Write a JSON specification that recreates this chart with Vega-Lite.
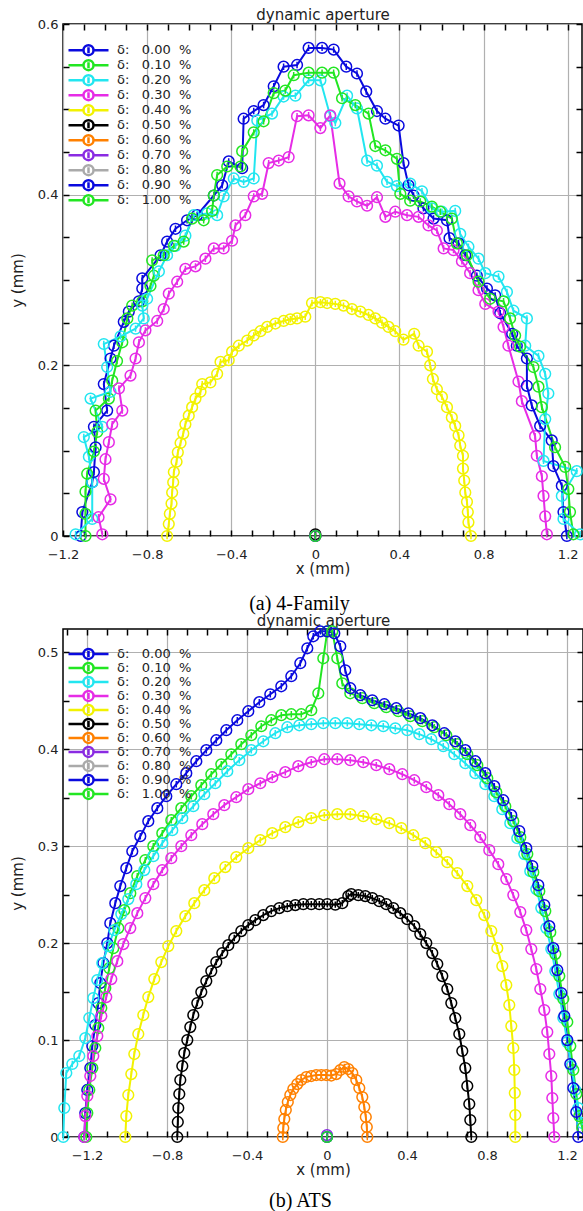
{
"$schema": "https://vega.github.io/schema/vega-lite/v6.json",
"background": "white",
"padding": {"left": 9, "top": 6, "right": 0, "bottom": 0},
"spacing": -3,
"config": {
  "view": {"stroke": "black", "strokeWidth": 1.5},
  "axis": {"labelFont": "DejaVu Sans", "labelFontSize": 13, "labelColor": "#222222", "titleFont": "DejaVu Sans", "titleFontSize": 15, "titleFontWeight": "normal", "titleColor": "#222222", "gridColor": "#b0b0b0", "gridWidth": 1.2, "tickColor": "black", "tickWidth": 1.5}
},
"resolve": {"scale": {"color": "independent"}, "legend": {"color": "independent"}},
"datasets": {
"a": [
{"d":0,"i":1,"x":-1.116,"y":0},{"d":0,"i":2,"x":-1.108,"y":0.028},{"d":0,"i":3,"x":-1.061,"y":0.063},{"d":0,"i":4,"x":-1.053,"y":0.075},{"d":0,"i":5,"x":-1.045,"y":0.104},{"d":0,"i":6,"x":-1.053,"y":0.128},{"d":0,"i":7,"x":-0.99,"y":0.147},{"d":0,"i":8,"x":-1.006,"y":0.178},{"d":0,"i":9,"x":-0.974,"y":0.208},{"d":0,"i":10,"x":-0.958,"y":0.223},{"d":0,"i":11,"x":-0.911,"y":0.251},{"d":0,"i":12,"x":-0.887,"y":0.263},{"d":0,"i":13,"x":-0.839,"y":0.275},{"d":0,"i":14,"x":-0.823,"y":0.29},{"d":0,"i":15,"x":-0.823,"y":0.302},{"d":0,"i":16,"x":-0.736,"y":0.329},{"d":0,"i":17,"x":-0.705,"y":0.345},{"d":0,"i":18,"x":-0.665,"y":0.36},{"d":0,"i":19,"x":-0.61,"y":0.37},{"d":0,"i":20,"x":-0.562,"y":0.376},{"d":0,"i":21,"x":-0.483,"y":0.399},{"d":0,"i":22,"x":-0.443,"y":0.411},{"d":0,"i":23,"x":-0.412,"y":0.439},{"d":0,"i":24,"x":-0.348,"y":0.431},{"d":0,"i":25,"x":-0.341,"y":0.489},{"d":0,"i":26,"x":-0.293,"y":0.498},{"d":0,"i":27,"x":-0.246,"y":0.505},{"d":0,"i":28,"x":-0.198,"y":0.527},{"d":0,"i":29,"x":-0.151,"y":0.55},{"d":0,"i":30,"x":-0.087,"y":0.552},{"d":0,"i":31,"x":-0.032,"y":0.572},{"d":0,"i":32,"x":0.032,"y":0.572},{"d":0,"i":33,"x":0.087,"y":0.57},{"d":0,"i":34,"x":0.147,"y":0.55},{"d":0,"i":35,"x":0.198,"y":0.542},{"d":0,"i":36,"x":0.242,"y":0.521},{"d":0,"i":37,"x":0.293,"y":0.498},{"d":0,"i":38,"x":0.333,"y":0.489},{"d":0,"i":39,"x":0.396,"y":0.481},{"d":0,"i":40,"x":0.419,"y":0.437},{"d":0,"i":41,"x":0.443,"y":0.411},{"d":0,"i":42,"x":0.467,"y":0.399},{"d":0,"i":43,"x":0.514,"y":0.384},{"d":0,"i":44,"x":0.562,"y":0.372},{"d":0,"i":45,"x":0.626,"y":0.37},{"d":0,"i":46,"x":0.638,"y":0.349},{"d":0,"i":47,"x":0.681,"y":0.343},{"d":0,"i":48,"x":0.713,"y":0.329},{"d":0,"i":49,"x":0.768,"y":0.305},{"d":0,"i":50,"x":0.816,"y":0.29},{"d":0,"i":51,"x":0.855,"y":0.282},{"d":0,"i":52,"x":0.879,"y":0.261},{"d":0,"i":53,"x":0.936,"y":0.237},{"d":0,"i":54,"x":0.958,"y":0.223},{"d":0,"i":55,"x":1.006,"y":0.208},{"d":0,"i":56,"x":1.006,"y":0.176},{"d":0,"i":57,"x":1.029,"y":0.153},{"d":0,"i":58,"x":1.069,"y":0.129},{"d":0,"i":59,"x":1.124,"y":0.112},{"d":0,"i":60,"x":1.132,"y":0.082},{"d":0,"i":61,"x":1.172,"y":0.059},{"d":0,"i":62,"x":1.18,"y":0.028},{"d":0,"i":63,"x":1.196,"y":0},
{"d":0.1,"i":1,"x":-1.093,"y":0},{"d":0.1,"i":2,"x":-1.093,"y":0.026},{"d":0.1,"i":3,"x":-1.093,"y":0.052},{"d":0.1,"i":4,"x":-1.085,"y":0.073},{"d":0.1,"i":5,"x":-1.053,"y":0.099},{"d":0.1,"i":6,"x":-1.037,"y":0.122},{"d":0.1,"i":7,"x":-1.045,"y":0.147},{"d":0.1,"i":8,"x":-0.982,"y":0.161},{"d":0.1,"i":9,"x":-0.966,"y":0.182},{"d":0.1,"i":10,"x":-0.943,"y":0.205},{"d":0.1,"i":11,"x":-0.918,"y":0.227},{"d":0.1,"i":12,"x":-0.894,"y":0.255},{"d":0.1,"i":13,"x":-0.871,"y":0.27},{"d":0.1,"i":14,"x":-0.823,"y":0.275},{"d":0.1,"i":15,"x":-0.784,"y":0.293},{"d":0.1,"i":16,"x":-0.768,"y":0.305},{"d":0.1,"i":17,"x":-0.776,"y":0.323},{"d":0.1,"i":18,"x":-0.721,"y":0.329},{"d":0.1,"i":19,"x":-0.673,"y":0.34},{"d":0.1,"i":20,"x":-0.626,"y":0.345},{"d":0.1,"i":21,"x":-0.586,"y":0.372},{"d":0.1,"i":22,"x":-0.531,"y":0.37},{"d":0.1,"i":23,"x":-0.491,"y":0.381},{"d":0.1,"i":24,"x":-0.483,"y":0.399},{"d":0.1,"i":25,"x":-0.467,"y":0.423},{"d":0.1,"i":26,"x":-0.419,"y":0.433},{"d":0.1,"i":27,"x":-0.356,"y":0.433},{"d":0.1,"i":28,"x":-0.348,"y":0.451},{"d":0.1,"i":29,"x":-0.293,"y":0.473},{"d":0.1,"i":30,"x":-0.246,"y":0.486},{"d":0.1,"i":31,"x":-0.198,"y":0.519},{"d":0.1,"i":32,"x":-0.143,"y":0.522},{"d":0.1,"i":33,"x":-0.103,"y":0.54},{"d":0.1,"i":34,"x":-0.032,"y":0.543},{"d":0.1,"i":35,"x":0.032,"y":0.543},{"d":0.1,"i":36,"x":0.087,"y":0.543},{"d":0.1,"i":37,"x":0.127,"y":0.513},{"d":0.1,"i":38,"x":0.19,"y":0.505},{"d":0.1,"i":39,"x":0.253,"y":0.495},{"d":0.1,"i":40,"x":0.285,"y":0.457},{"d":0.1,"i":41,"x":0.333,"y":0.452},{"d":0.1,"i":42,"x":0.388,"y":0.442},{"d":0.1,"i":43,"x":0.404,"y":0.401},{"d":0.1,"i":44,"x":0.451,"y":0.393},{"d":0.1,"i":45,"x":0.499,"y":0.392},{"d":0.1,"i":46,"x":0.554,"y":0.386},{"d":0.1,"i":47,"x":0.594,"y":0.38},{"d":0.1,"i":48,"x":0.649,"y":0.372},{"d":0.1,"i":49,"x":0.673,"y":0.343},{"d":0.1,"i":50,"x":0.721,"y":0.329},{"d":0.1,"i":51,"x":0.776,"y":0.298},{"d":0.1,"i":52,"x":0.831,"y":0.278},{"d":0.1,"i":53,"x":0.895,"y":0.275},{"d":0.1,"i":54,"x":0.926,"y":0.255},{"d":0.1,"i":55,"x":0.95,"y":0.235},{"d":0.1,"i":56,"x":0.974,"y":0.222},{"d":0.1,"i":57,"x":1.037,"y":0.198},{"d":0.1,"i":58,"x":1.061,"y":0.175},{"d":0.1,"i":59,"x":1.077,"y":0.151},{"d":0.1,"i":60,"x":1.14,"y":0.104},{"d":0.1,"i":61,"x":1.188,"y":0.081},{"d":0.1,"i":62,"x":1.203,"y":0.055},{"d":0.1,"i":63,"x":1.211,"y":0.028},{"d":0.1,"i":64,"x":1.227,"y":0.002},
{"d":0.2,"i":1,"x":-1.14,"y":0.002},{"d":0.2,"i":2,"x":-1.061,"y":0.02},{"d":0.2,"i":3,"x":-1.061,"y":0.063},{"d":0.2,"i":4,"x":-1.077,"y":0.093},{"d":0.2,"i":5,"x":-1.101,"y":0.116},{"d":0.2,"i":6,"x":-1.013,"y":0.128},{"d":0.2,"i":7,"x":-1.069,"y":0.161},{"d":0.2,"i":8,"x":-0.974,"y":0.169},{"d":0.2,"i":9,"x":-0.99,"y":0.198},{"d":0.2,"i":10,"x":-1.006,"y":0.225},{"d":0.2,"i":11,"x":-0.926,"y":0.234},{"d":0.2,"i":12,"x":-0.855,"y":0.243},{"d":0.2,"i":13,"x":-0.816,"y":0.255},{"d":0.2,"i":14,"x":-0.823,"y":0.27},{"d":0.2,"i":15,"x":-0.8,"y":0.278},{"d":0.2,"i":16,"x":-0.744,"y":0.31},{"d":0.2,"i":17,"x":-0.705,"y":0.329},{"d":0.2,"i":18,"x":-0.665,"y":0.34},{"d":0.2,"i":19,"x":-0.618,"y":0.352},{"d":0.2,"i":20,"x":-0.578,"y":0.376},{"d":0.2,"i":21,"x":-0.515,"y":0.378},{"d":0.2,"i":22,"x":-0.467,"y":0.376},{"d":0.2,"i":23,"x":-0.436,"y":0.398},{"d":0.2,"i":24,"x":-0.388,"y":0.419},{"d":0.2,"i":25,"x":-0.341,"y":0.415},{"d":0.2,"i":26,"x":-0.293,"y":0.419},{"d":0.2,"i":27,"x":-0.276,"y":0.487},{"d":0.2,"i":28,"x":-0.206,"y":0.495},{"d":0.2,"i":29,"x":-0.151,"y":0.515},{"d":0.2,"i":30,"x":-0.095,"y":0.516},{"d":0.2,"i":31,"x":-0.032,"y":0.534},{"d":0.2,"i":32,"x":0.024,"y":0.534},{"d":0.2,"i":33,"x":0.071,"y":0.492},{"d":0.2,"i":34,"x":0.095,"y":0.484},{"d":0.2,"i":35,"x":0.151,"y":0.516},{"d":0.2,"i":36,"x":0.198,"y":0.501},{"d":0.2,"i":37,"x":0.246,"y":0.44},{"d":0.2,"i":38,"x":0.293,"y":0.434},{"d":0.2,"i":39,"x":0.341,"y":0.415},{"d":0.2,"i":40,"x":0.388,"y":0.41},{"d":0.2,"i":41,"x":0.451,"y":0.413},{"d":0.2,"i":42,"x":0.507,"y":0.404},{"d":0.2,"i":43,"x":0.554,"y":0.384},{"d":0.2,"i":44,"x":0.602,"y":0.38},{"d":0.2,"i":45,"x":0.665,"y":0.381},{"d":0.2,"i":46,"x":0.689,"y":0.354},{"d":0.2,"i":47,"x":0.728,"y":0.339},{"d":0.2,"i":48,"x":0.776,"y":0.325},{"d":0.2,"i":49,"x":0.808,"y":0.308},{"d":0.2,"i":50,"x":0.871,"y":0.304},{"d":0.2,"i":51,"x":0.911,"y":0.286},{"d":0.2,"i":52,"x":0.942,"y":0.264},{"d":0.2,"i":53,"x":1.006,"y":0.255},{"d":0.2,"i":54,"x":0.998,"y":0.223},{"d":0.2,"i":55,"x":1.061,"y":0.211},{"d":0.2,"i":56,"x":1.093,"y":0.19},{"d":0.2,"i":57,"x":1.108,"y":0.167},{"d":0.2,"i":58,"x":1.093,"y":0.137},{"d":0.2,"i":59,"x":1.085,"y":0.088},{"d":0.2,"i":60,"x":1.243,"y":0.076},{"d":0.2,"i":61,"x":1.172,"y":0.047},{"d":0.2,"i":62,"x":1.18,"y":0.02},{"d":0.2,"i":63,"x":1.259,"y":0.002},
{"d":0.3,"i":1,"x":-1.013,"y":0.002},{"d":0.3,"i":2,"x":-1.031,"y":0.022},{"d":0.3,"i":3,"x":-0.974,"y":0.043},{"d":0.3,"i":4,"x":-1.006,"y":0.067},{"d":0.3,"i":5,"x":-0.998,"y":0.09},{"d":0.3,"i":6,"x":-0.982,"y":0.11},{"d":0.3,"i":7,"x":-0.966,"y":0.131},{"d":0.3,"i":8,"x":-0.918,"y":0.147},{"d":0.3,"i":9,"x":-0.934,"y":0.173},{"d":0.3,"i":10,"x":-0.879,"y":0.188},{"d":0.3,"i":11,"x":-0.855,"y":0.208},{"d":0.3,"i":12,"x":-0.839,"y":0.227},{"d":0.3,"i":13,"x":-0.808,"y":0.241},{"d":0.3,"i":14,"x":-0.752,"y":0.252},{"d":0.3,"i":15,"x":-0.721,"y":0.266},{"d":0.3,"i":16,"x":-0.697,"y":0.284},{"d":0.3,"i":17,"x":-0.657,"y":0.298},{"d":0.3,"i":18,"x":-0.618,"y":0.313},{"d":0.3,"i":19,"x":-0.57,"y":0.316},{"d":0.3,"i":20,"x":-0.523,"y":0.325},{"d":0.3,"i":21,"x":-0.483,"y":0.337},{"d":0.3,"i":22,"x":-0.436,"y":0.337},{"d":0.3,"i":23,"x":-0.396,"y":0.346},{"d":0.3,"i":24,"x":-0.38,"y":0.364},{"d":0.3,"i":25,"x":-0.333,"y":0.376},{"d":0.3,"i":26,"x":-0.293,"y":0.398},{"d":0.3,"i":27,"x":-0.253,"y":0.401},{"d":0.3,"i":28,"x":-0.222,"y":0.437},{"d":0.3,"i":29,"x":-0.174,"y":0.44},{"d":0.3,"i":30,"x":-0.127,"y":0.444},{"d":0.3,"i":31,"x":-0.087,"y":0.492},{"d":0.3,"i":32,"x":-0.032,"y":0.493},{"d":0.3,"i":33,"x":0.024,"y":0.478},{"d":0.3,"i":34,"x":0.071,"y":0.493},{"d":0.3,"i":35,"x":0.115,"y":0.413},{"d":0.3,"i":36,"x":0.158,"y":0.398},{"d":0.3,"i":37,"x":0.198,"y":0.392},{"d":0.3,"i":38,"x":0.246,"y":0.387},{"d":0.3,"i":39,"x":0.293,"y":0.397},{"d":0.3,"i":40,"x":0.333,"y":0.374},{"d":0.3,"i":41,"x":0.38,"y":0.38},{"d":0.3,"i":42,"x":0.436,"y":0.376},{"d":0.3,"i":43,"x":0.491,"y":0.374},{"d":0.3,"i":44,"x":0.538,"y":0.364},{"d":0.3,"i":45,"x":0.578,"y":0.358},{"d":0.3,"i":46,"x":0.61,"y":0.337},{"d":0.3,"i":47,"x":0.657,"y":0.335},{"d":0.3,"i":48,"x":0.697,"y":0.322},{"d":0.3,"i":49,"x":0.736,"y":0.308},{"d":0.3,"i":50,"x":0.776,"y":0.288},{"d":0.3,"i":51,"x":0.808,"y":0.272},{"d":0.3,"i":52,"x":0.871,"y":0.263},{"d":0.3,"i":53,"x":0.895,"y":0.245},{"d":0.3,"i":54,"x":0.918,"y":0.223},{"d":0.3,"i":55,"x":0.966,"y":0.181},{"d":0.3,"i":56,"x":0.982,"y":0.158},{"d":0.3,"i":57,"x":1.045,"y":0.117},{"d":0.3,"i":58,"x":1.053,"y":0.094},{"d":0.3,"i":59,"x":1.077,"y":0.07},{"d":0.3,"i":60,"x":1.085,"y":0.047},{"d":0.3,"i":61,"x":1.093,"y":0.023},{"d":0.3,"i":62,"x":1.101,"y":0.002},
{"d":0.4,"i":1,"x":-0.705,"y":0},{"d":0.4,"i":2,"x":-0.697,"y":0.014},{"d":0.4,"i":3,"x":-0.692,"y":0.026},{"d":0.4,"i":4,"x":-0.684,"y":0.038},{"d":0.4,"i":5,"x":-0.681,"y":0.051},{"d":0.4,"i":6,"x":-0.676,"y":0.063},{"d":0.4,"i":7,"x":-0.673,"y":0.075},{"d":0.4,"i":8,"x":-0.66,"y":0.087},{"d":0.4,"i":9,"x":-0.654,"y":0.098},{"d":0.4,"i":10,"x":-0.641,"y":0.109},{"d":0.4,"i":11,"x":-0.628,"y":0.12},{"d":0.4,"i":12,"x":-0.618,"y":0.131},{"d":0.4,"i":13,"x":-0.602,"y":0.141},{"d":0.4,"i":14,"x":-0.586,"y":0.151},{"d":0.4,"i":15,"x":-0.57,"y":0.161},{"d":0.4,"i":16,"x":-0.546,"y":0.169},{"d":0.4,"i":17,"x":-0.538,"y":0.178},{"d":0.4,"i":18,"x":-0.499,"y":0.18},{"d":0.4,"i":19,"x":-0.467,"y":0.19},{"d":0.4,"i":20,"x":-0.451,"y":0.204},{"d":0.4,"i":21,"x":-0.412,"y":0.206},{"d":0.4,"i":22,"x":-0.396,"y":0.216},{"d":0.4,"i":23,"x":-0.364,"y":0.223},{"d":0.4,"i":24,"x":-0.324,"y":0.229},{"d":0.4,"i":25,"x":-0.293,"y":0.235},{"d":0.4,"i":26,"x":-0.261,"y":0.24},{"d":0.4,"i":27,"x":-0.229,"y":0.245},{"d":0.4,"i":28,"x":-0.19,"y":0.249},{"d":0.4,"i":29,"x":-0.151,"y":0.252},{"d":0.4,"i":30,"x":-0.119,"y":0.254},{"d":0.4,"i":31,"x":-0.087,"y":0.255},{"d":0.4,"i":32,"x":-0.048,"y":0.257},{"d":0.4,"i":33,"x":-0.016,"y":0.273},{"d":0.4,"i":34,"x":0.024,"y":0.274},{"d":0.4,"i":35,"x":0.056,"y":0.273},{"d":0.4,"i":36,"x":0.095,"y":0.272},{"d":0.4,"i":37,"x":0.134,"y":0.27},{"d":0.4,"i":38,"x":0.174,"y":0.266},{"d":0.4,"i":39,"x":0.214,"y":0.263},{"d":0.4,"i":40,"x":0.253,"y":0.259},{"d":0.4,"i":41,"x":0.285,"y":0.255},{"d":0.4,"i":42,"x":0.317,"y":0.25},{"d":0.4,"i":43,"x":0.348,"y":0.245},{"d":0.4,"i":44,"x":0.38,"y":0.24},{"d":0.4,"i":45,"x":0.419,"y":0.23},{"d":0.4,"i":46,"x":0.47,"y":0.237},{"d":0.4,"i":47,"x":0.491,"y":0.223},{"d":0.4,"i":48,"x":0.531,"y":0.216},{"d":0.4,"i":49,"x":0.546,"y":0.2},{"d":0.4,"i":50,"x":0.559,"y":0.184},{"d":0.4,"i":51,"x":0.578,"y":0.172},{"d":0.4,"i":52,"x":0.602,"y":0.163},{"d":0.4,"i":53,"x":0.626,"y":0.151},{"d":0.4,"i":54,"x":0.649,"y":0.139},{"d":0.4,"i":55,"x":0.665,"y":0.129},{"d":0.4,"i":56,"x":0.681,"y":0.118},{"d":0.4,"i":57,"x":0.689,"y":0.106},{"d":0.4,"i":58,"x":0.702,"y":0.094},{"d":0.4,"i":59,"x":0.702,"y":0.079},{"d":0.4,"i":60,"x":0.708,"y":0.065},{"d":0.4,"i":61,"x":0.713,"y":0.051},{"d":0.4,"i":62,"x":0.721,"y":0.04},{"d":0.4,"i":63,"x":0.725,"y":0.028},{"d":0.4,"i":64,"x":0.728,"y":0.016},{"d":0.4,"i":65,"x":0.74,"y":0},
{"d":0.5,"i":1,"x":0,"y":0.002},{"d":0.6,"i":1,"x":0,"y":0},{"d":0.7,"i":1,"x":0,"y":0},{"d":0.8,"i":1,"x":0,"y":0},{"d":0.9,"i":1,"x":0,"y":0},{"d":1,"i":1,"x":0,"y":0}
],
"b": [
{"d":0,"i":1,"x":-1.2135,"y":0},{"d":0,"i":2,"x":-1.2085,"y":0.0247},{"d":0,"i":3,"x":-1.1985,"y":0.0485},{"d":0,"i":4,"x":-1.1835,"y":0.0711},{"d":0,"i":5,"x":-1.1735,"y":0.0938},{"d":0,"i":6,"x":-1.1585,"y":0.1155},{"d":0,"i":7,"x":-1.1435,"y":0.1381},{"d":0,"i":8,"x":-1.1335,"y":0.1588},{"d":0,"i":9,"x":-1.1185,"y":0.1794},{"d":0,"i":10,"x":-1.0985,"y":0.2},{"d":0,"i":11,"x":-1.0835,"y":0.2206},{"d":0,"i":12,"x":-1.0585,"y":0.2412},{"d":0,"i":13,"x":-1.0335,"y":0.2588},{"d":0,"i":14,"x":-1.0035,"y":0.2773},{"d":0,"i":15,"x":-0.9735,"y":0.2948},{"d":0,"i":16,"x":-0.9335,"y":0.3103},{"d":0,"i":17,"x":-0.8935,"y":0.3258},{"d":0,"i":18,"x":-0.8485,"y":0.3392},{"d":0,"i":19,"x":-0.8035,"y":0.3515},{"d":0,"i":20,"x":-0.7535,"y":0.3639},{"d":0,"i":21,"x":-0.7035,"y":0.3753},{"d":0,"i":22,"x":-0.6535,"y":0.3876},{"d":0,"i":23,"x":-0.6035,"y":0.399},{"d":0,"i":24,"x":-0.5535,"y":0.4093},{"d":0,"i":25,"x":-0.5035,"y":0.4196},{"d":0,"i":26,"x":-0.4485,"y":0.4299},{"d":0,"i":27,"x":-0.3935,"y":0.4392},{"d":0,"i":28,"x":-0.3385,"y":0.4485},{"d":0,"i":29,"x":-0.2835,"y":0.4567},{"d":0,"i":30,"x":-0.2285,"y":0.4649},{"d":0,"i":31,"x":-0.1785,"y":0.4753},{"d":0,"i":32,"x":-0.1335,"y":0.4887},{"d":0,"i":33,"x":-0.0985,"y":0.5041},{"d":0,"i":34,"x":-0.0685,"y":0.5165},{"d":0,"i":35,"x":-0.0335,"y":0.5216},{"d":0,"i":36,"x":0.0015,"y":0.5216},{"d":0,"i":37,"x":0.0365,"y":0.5196},{"d":0,"i":38,"x":0.0665,"y":0.5062},{"d":0,"i":39,"x":0.0915,"y":0.4814},{"d":0,"i":40,"x":0.1165,"y":0.4629},{"d":0,"i":41,"x":0.1665,"y":0.4557},{"d":0,"i":42,"x":0.2265,"y":0.4505},{"d":0,"i":43,"x":0.2865,"y":0.4464},{"d":0,"i":44,"x":0.3465,"y":0.4423},{"d":0,"i":45,"x":0.4065,"y":0.4371},{"d":0,"i":46,"x":0.4665,"y":0.432},{"d":0,"i":47,"x":0.5265,"y":0.4247},{"d":0,"i":48,"x":0.5865,"y":0.4165},{"d":0,"i":49,"x":0.6415,"y":0.4082},{"d":0,"i":50,"x":0.6915,"y":0.399},{"d":0,"i":51,"x":0.7415,"y":0.3876},{"d":0,"i":52,"x":0.7915,"y":0.3753},{"d":0,"i":53,"x":0.8365,"y":0.3619},{"d":0,"i":54,"x":0.8815,"y":0.3474},{"d":0,"i":55,"x":0.9215,"y":0.332},{"d":0,"i":56,"x":0.9615,"y":0.3155},{"d":0,"i":57,"x":0.9965,"y":0.2979},{"d":0,"i":58,"x":1.0265,"y":0.2794},{"d":0,"i":59,"x":1.0565,"y":0.2598},{"d":0,"i":60,"x":1.0865,"y":0.2392},{"d":0,"i":61,"x":1.1115,"y":0.2175},{"d":0,"i":62,"x":1.1315,"y":0.1948},{"d":0,"i":63,"x":1.1515,"y":0.1722},{"d":0,"i":64,"x":1.1715,"y":0.1485},{"d":0,"i":65,"x":1.1865,"y":0.1247},{"d":0,"i":66,"x":1.2015,"y":0.1},{"d":0,"i":67,"x":1.2165,"y":0.0753},{"d":0,"i":68,"x":1.2315,"y":0.0505},{"d":0,"i":69,"x":1.2465,"y":0.0258},{"d":0,"i":70,"x":1.2565,"y":0},
{"d":0.1,"i":1,"x":-1.2035,"y":0},{"d":0.1,"i":2,"x":-1.1985,"y":0.0247},{"d":0.1,"i":3,"x":-1.1885,"y":0.0485},{"d":0.1,"i":4,"x":-1.1735,"y":0.0711},{"d":0.1,"i":5,"x":-1.1585,"y":0.0918},{"d":0.1,"i":6,"x":-1.1435,"y":0.1124},{"d":0.1,"i":7,"x":-1.1285,"y":0.133},{"d":0.1,"i":8,"x":-1.1085,"y":0.1536},{"d":0.1,"i":9,"x":-1.0885,"y":0.1742},{"d":0.1,"i":10,"x":-1.0685,"y":0.1948},{"d":0.1,"i":11,"x":-1.0435,"y":0.2155},{"d":0.1,"i":12,"x":-1.0135,"y":0.234},{"d":0.1,"i":13,"x":-0.9835,"y":0.2515},{"d":0.1,"i":14,"x":-0.9485,"y":0.2691},{"d":0.1,"i":15,"x":-0.9085,"y":0.2856},{"d":0.1,"i":16,"x":-0.8685,"y":0.3},{"d":0.1,"i":17,"x":-0.8235,"y":0.3134},{"d":0.1,"i":18,"x":-0.7785,"y":0.3268},{"d":0.1,"i":19,"x":-0.7285,"y":0.3392},{"d":0.1,"i":20,"x":-0.6785,"y":0.3515},{"d":0.1,"i":21,"x":-0.6285,"y":0.3629},{"d":0.1,"i":22,"x":-0.5785,"y":0.3742},{"d":0.1,"i":23,"x":-0.5285,"y":0.3845},{"d":0.1,"i":24,"x":-0.4785,"y":0.3948},{"d":0.1,"i":25,"x":-0.4285,"y":0.4052},{"d":0.1,"i":26,"x":-0.3785,"y":0.4144},{"d":0.1,"i":27,"x":-0.3285,"y":0.4237},{"d":0.1,"i":28,"x":-0.2785,"y":0.4299},{"d":0.1,"i":29,"x":-0.2285,"y":0.4351},{"d":0.1,"i":30,"x":-0.1785,"y":0.4361},{"d":0.1,"i":31,"x":-0.1285,"y":0.4361},{"d":0.1,"i":32,"x":-0.0785,"y":0.4402},{"d":0.1,"i":33,"x":-0.0435,"y":0.4577},{"d":0.1,"i":34,"x":-0.0185,"y":0.4938},{"d":0.1,"i":35,"x":0.0015,"y":0.5216},{"d":0.1,"i":36,"x":0.0265,"y":0.5216},{"d":0.1,"i":37,"x":0.0515,"y":0.4938},{"d":0.1,"i":38,"x":0.0765,"y":0.468},{"d":0.1,"i":39,"x":0.1165,"y":0.4577},{"d":0.1,"i":40,"x":0.1765,"y":0.4526},{"d":0.1,"i":41,"x":0.2365,"y":0.4474},{"d":0.1,"i":42,"x":0.2965,"y":0.4433},{"d":0.1,"i":43,"x":0.3565,"y":0.4392},{"d":0.1,"i":44,"x":0.4165,"y":0.434},{"d":0.1,"i":45,"x":0.4765,"y":0.4289},{"d":0.1,"i":46,"x":0.5365,"y":0.4227},{"d":0.1,"i":47,"x":0.5965,"y":0.4144},{"d":0.1,"i":48,"x":0.6515,"y":0.4052},{"d":0.1,"i":49,"x":0.7015,"y":0.3948},{"d":0.1,"i":50,"x":0.7515,"y":0.3835},{"d":0.1,"i":51,"x":0.8015,"y":0.3701},{"d":0.1,"i":52,"x":0.8465,"y":0.3557},{"d":0.1,"i":53,"x":0.8915,"y":0.3412},{"d":0.1,"i":54,"x":0.9315,"y":0.3258},{"d":0.1,"i":55,"x":0.9665,"y":0.3093},{"d":0.1,"i":56,"x":1.0015,"y":0.2918},{"d":0.1,"i":57,"x":1.0315,"y":0.2732},{"d":0.1,"i":58,"x":1.0615,"y":0.2536},{"d":0.1,"i":59,"x":1.0915,"y":0.233},{"d":0.1,"i":60,"x":1.1165,"y":0.2113},{"d":0.1,"i":61,"x":1.1415,"y":0.1887},{"d":0.1,"i":62,"x":1.1615,"y":0.166},{"d":0.1,"i":63,"x":1.1815,"y":0.1423},{"d":0.1,"i":64,"x":1.2015,"y":0.1186},{"d":0.1,"i":65,"x":1.2165,"y":0.0938},{"d":0.1,"i":66,"x":1.2315,"y":0.0691},{"d":0.1,"i":67,"x":1.2465,"y":0.0443},{"d":0.1,"i":68,"x":1.2615,"y":0.0216},{"d":0.1,"i":69,"x":1.2765,"y":0.0093},
{"d":0.2,"i":1,"x":-1.3185,"y":0},{"d":0.2,"i":2,"x":-1.3135,"y":0.0299},{"d":0.2,"i":3,"x":-1.3035,"y":0.066},{"d":0.2,"i":4,"x":-1.2735,"y":0.0753},{"d":0.2,"i":5,"x":-1.2385,"y":0.0835},{"d":0.2,"i":6,"x":-1.2085,"y":0.1021},{"d":0.2,"i":7,"x":-1.1885,"y":0.1227},{"d":0.2,"i":8,"x":-1.1685,"y":0.1433},{"d":0.2,"i":9,"x":-1.1485,"y":0.1619},{"d":0.2,"i":10,"x":-1.1235,"y":0.1794},{"d":0.2,"i":11,"x":-1.0935,"y":0.1969},{"d":0.2,"i":12,"x":-1.0635,"y":0.2134},{"d":0.2,"i":13,"x":-1.0285,"y":0.2299},{"d":0.2,"i":14,"x":-0.9935,"y":0.2454},{"d":0.2,"i":15,"x":-0.9535,"y":0.2608},{"d":0.2,"i":16,"x":-0.9135,"y":0.2753},{"d":0.2,"i":17,"x":-0.8685,"y":0.2897},{"d":0.2,"i":18,"x":-0.8235,"y":0.3031},{"d":0.2,"i":19,"x":-0.7735,"y":0.3165},{"d":0.2,"i":20,"x":-0.7235,"y":0.3289},{"d":0.2,"i":21,"x":-0.6685,"y":0.3412},{"d":0.2,"i":22,"x":-0.6135,"y":0.3536},{"d":0.2,"i":23,"x":-0.5585,"y":0.3649},{"d":0.2,"i":24,"x":-0.4985,"y":0.3773},{"d":0.2,"i":25,"x":-0.4385,"y":0.3887},{"d":0.2,"i":26,"x":-0.3785,"y":0.399},{"d":0.2,"i":27,"x":-0.3185,"y":0.4082},{"d":0.2,"i":28,"x":-0.2585,"y":0.4165},{"d":0.2,"i":29,"x":-0.1985,"y":0.4227},{"d":0.2,"i":30,"x":-0.1385,"y":0.4247},{"d":0.2,"i":31,"x":-0.0785,"y":0.4258},{"d":0.2,"i":32,"x":-0.0185,"y":0.4268},{"d":0.2,"i":33,"x":0.0415,"y":0.4268},{"d":0.2,"i":34,"x":0.1015,"y":0.4268},{"d":0.2,"i":35,"x":0.1615,"y":0.4258},{"d":0.2,"i":36,"x":0.2215,"y":0.4247},{"d":0.2,"i":37,"x":0.2815,"y":0.4237},{"d":0.2,"i":38,"x":0.3415,"y":0.4216},{"d":0.2,"i":39,"x":0.4015,"y":0.4196},{"d":0.2,"i":40,"x":0.4615,"y":0.4155},{"d":0.2,"i":41,"x":0.5215,"y":0.4103},{"d":0.2,"i":42,"x":0.5815,"y":0.4031},{"d":0.2,"i":43,"x":0.6365,"y":0.3948},{"d":0.2,"i":44,"x":0.6915,"y":0.3856},{"d":0.2,"i":45,"x":0.7415,"y":0.3753},{"d":0.2,"i":46,"x":0.7915,"y":0.3639},{"d":0.2,"i":47,"x":0.8365,"y":0.3515},{"d":0.2,"i":48,"x":0.8765,"y":0.3381},{"d":0.2,"i":49,"x":0.9165,"y":0.3237},{"d":0.2,"i":50,"x":0.9515,"y":0.3082},{"d":0.2,"i":51,"x":0.9865,"y":0.2918},{"d":0.2,"i":52,"x":1.0165,"y":0.2742},{"d":0.2,"i":53,"x":1.0465,"y":0.2557},{"d":0.2,"i":54,"x":1.0715,"y":0.2361},{"d":0.2,"i":55,"x":1.0965,"y":0.2155},{"d":0.2,"i":56,"x":1.1215,"y":0.1938},{"d":0.2,"i":57,"x":1.1415,"y":0.1711},{"d":0.2,"i":58,"x":1.1615,"y":0.1474},{"d":0.2,"i":59,"x":1.1815,"y":0.1227},{"d":0.2,"i":60,"x":1.2015,"y":0.0979},{"d":0.2,"i":61,"x":1.2215,"y":0.0732},{"d":0.2,"i":62,"x":1.2415,"y":0.0485},{"d":0.2,"i":63,"x":1.2565,"y":0.0299},{"d":0.2,"i":64,"x":1.2765,"y":0.0144},
{"d":0.3,"i":1,"x":-1.2135,"y":0},{"d":0.3,"i":2,"x":-1.2085,"y":0.0216},{"d":0.3,"i":3,"x":-1.1985,"y":0.0423},{"d":0.3,"i":4,"x":-1.1835,"y":0.0629},{"d":0.3,"i":5,"x":-1.1685,"y":0.0835},{"d":0.3,"i":6,"x":-1.1485,"y":0.1041},{"d":0.3,"i":7,"x":-1.1285,"y":0.1247},{"d":0.3,"i":8,"x":-1.1035,"y":0.1443},{"d":0.3,"i":9,"x":-1.0785,"y":0.1629},{"d":0.3,"i":10,"x":-1.0485,"y":0.1814},{"d":0.3,"i":11,"x":-1.0185,"y":0.199},{"d":0.3,"i":12,"x":-0.9835,"y":0.2155},{"d":0.3,"i":13,"x":-0.9485,"y":0.2309},{"d":0.3,"i":14,"x":-0.9085,"y":0.2464},{"d":0.3,"i":15,"x":-0.8685,"y":0.2608},{"d":0.3,"i":16,"x":-0.8235,"y":0.2753},{"d":0.3,"i":17,"x":-0.7785,"y":0.2876},{"d":0.3,"i":18,"x":-0.7285,"y":0.3},{"d":0.3,"i":19,"x":-0.6785,"y":0.3113},{"d":0.3,"i":20,"x":-0.6235,"y":0.3227},{"d":0.3,"i":21,"x":-0.5685,"y":0.333},{"d":0.3,"i":22,"x":-0.5135,"y":0.3423},{"d":0.3,"i":23,"x":-0.4535,"y":0.3505},{"d":0.3,"i":24,"x":-0.3935,"y":0.3588},{"d":0.3,"i":25,"x":-0.3335,"y":0.3649},{"d":0.3,"i":26,"x":-0.2735,"y":0.3711},{"d":0.3,"i":27,"x":-0.2085,"y":0.3763},{"d":0.3,"i":28,"x":-0.1435,"y":0.3825},{"d":0.3,"i":29,"x":-0.0785,"y":0.3866},{"d":0.3,"i":30,"x":-0.0135,"y":0.3897},{"d":0.3,"i":31,"x":0.0515,"y":0.3897},{"d":0.3,"i":32,"x":0.1165,"y":0.3887},{"d":0.3,"i":33,"x":0.1815,"y":0.3866},{"d":0.3,"i":34,"x":0.2465,"y":0.3835},{"d":0.3,"i":35,"x":0.3115,"y":0.3794},{"d":0.3,"i":36,"x":0.3765,"y":0.3742},{"d":0.3,"i":37,"x":0.4365,"y":0.368},{"d":0.3,"i":38,"x":0.4965,"y":0.3608},{"d":0.3,"i":39,"x":0.5565,"y":0.3526},{"d":0.3,"i":40,"x":0.6115,"y":0.3433},{"d":0.3,"i":41,"x":0.6665,"y":0.333},{"d":0.3,"i":42,"x":0.7165,"y":0.3216},{"d":0.3,"i":43,"x":0.7665,"y":0.3093},{"d":0.3,"i":44,"x":0.8115,"y":0.2959},{"d":0.3,"i":45,"x":0.8565,"y":0.2814},{"d":0.3,"i":46,"x":0.8965,"y":0.266},{"d":0.3,"i":47,"x":0.9315,"y":0.2495},{"d":0.3,"i":48,"x":0.9665,"y":0.232},{"d":0.3,"i":49,"x":0.9965,"y":0.2134},{"d":0.3,"i":50,"x":1.0215,"y":0.1938},{"d":0.3,"i":51,"x":1.0465,"y":0.1732},{"d":0.3,"i":52,"x":1.0665,"y":0.1526},{"d":0.3,"i":53,"x":1.0865,"y":0.1309},{"d":0.3,"i":54,"x":1.1015,"y":0.1082},{"d":0.3,"i":55,"x":1.1115,"y":0.0856},{"d":0.3,"i":56,"x":1.1215,"y":0.0629},{"d":0.3,"i":57,"x":1.1265,"y":0.0402},{"d":0.3,"i":58,"x":1.1315,"y":0.0196},{"d":0.3,"i":59,"x":1.1365,"y":0},
{"d":0.4,"i":1,"x":-1.0085,"y":0},{"d":0.4,"i":2,"x":-1.0035,"y":0.0216},{"d":0.4,"i":3,"x":-0.9935,"y":0.0433},{"d":0.4,"i":4,"x":-0.9785,"y":0.0649},{"d":0.4,"i":5,"x":-0.9635,"y":0.0856},{"d":0.4,"i":6,"x":-0.9435,"y":0.1062},{"d":0.4,"i":7,"x":-0.9185,"y":0.1258},{"d":0.4,"i":8,"x":-0.8935,"y":0.1443},{"d":0.4,"i":9,"x":-0.8635,"y":0.1629},{"d":0.4,"i":10,"x":-0.8285,"y":0.1804},{"d":0.4,"i":11,"x":-0.7935,"y":0.1969},{"d":0.4,"i":12,"x":-0.7535,"y":0.2124},{"d":0.4,"i":13,"x":-0.7085,"y":0.2278},{"d":0.4,"i":14,"x":-0.6635,"y":0.2412},{"d":0.4,"i":15,"x":-0.6135,"y":0.2546},{"d":0.4,"i":16,"x":-0.5635,"y":0.267},{"d":0.4,"i":17,"x":-0.5085,"y":0.2784},{"d":0.4,"i":18,"x":-0.4535,"y":0.2887},{"d":0.4,"i":19,"x":-0.3935,"y":0.2979},{"d":0.4,"i":20,"x":-0.3335,"y":0.3062},{"d":0.4,"i":21,"x":-0.2735,"y":0.3134},{"d":0.4,"i":22,"x":-0.2085,"y":0.3196},{"d":0.4,"i":23,"x":-0.1435,"y":0.3247},{"d":0.4,"i":24,"x":-0.0785,"y":0.3289},{"d":0.4,"i":25,"x":-0.0135,"y":0.332},{"d":0.4,"i":26,"x":0.0515,"y":0.333},{"d":0.4,"i":27,"x":0.1165,"y":0.333},{"d":0.4,"i":28,"x":0.1815,"y":0.3309},{"d":0.4,"i":29,"x":0.2465,"y":0.3278},{"d":0.4,"i":30,"x":0.3115,"y":0.3237},{"d":0.4,"i":31,"x":0.3715,"y":0.3186},{"d":0.4,"i":32,"x":0.4315,"y":0.3113},{"d":0.4,"i":33,"x":0.4915,"y":0.3031},{"d":0.4,"i":34,"x":0.5465,"y":0.2938},{"d":0.4,"i":35,"x":0.6015,"y":0.2835},{"d":0.4,"i":36,"x":0.6515,"y":0.2722},{"d":0.4,"i":37,"x":0.7015,"y":0.2588},{"d":0.4,"i":38,"x":0.7465,"y":0.2443},{"d":0.4,"i":39,"x":0.7865,"y":0.2289},{"d":0.4,"i":40,"x":0.8215,"y":0.2124},{"d":0.4,"i":41,"x":0.8515,"y":0.1948},{"d":0.4,"i":42,"x":0.8765,"y":0.1763},{"d":0.4,"i":43,"x":0.8965,"y":0.1567},{"d":0.4,"i":44,"x":0.9115,"y":0.1361},{"d":0.4,"i":45,"x":0.9215,"y":0.1144},{"d":0.4,"i":46,"x":0.9315,"y":0.0918},{"d":0.4,"i":47,"x":0.9365,"y":0.0691},{"d":0.4,"i":48,"x":0.939,"y":0.0454},{"d":0.4,"i":49,"x":0.9415,"y":0.0227},{"d":0.4,"i":50,"x":0.9415,"y":0},
{"d":0.5,"i":1,"x":-0.7485,"y":0},{"d":0.5,"i":2,"x":-0.746,"y":0.0155},{"d":0.5,"i":3,"x":-0.7435,"y":0.0299},{"d":0.5,"i":4,"x":-0.7385,"y":0.0443},{"d":0.5,"i":5,"x":-0.7335,"y":0.0588},{"d":0.5,"i":6,"x":-0.7235,"y":0.0732},{"d":0.5,"i":7,"x":-0.7135,"y":0.0866},{"d":0.5,"i":8,"x":-0.6985,"y":0.1},{"d":0.5,"i":9,"x":-0.6835,"y":0.1134},{"d":0.5,"i":10,"x":-0.6685,"y":0.1258},{"d":0.5,"i":11,"x":-0.6485,"y":0.1381},{"d":0.5,"i":12,"x":-0.6285,"y":0.1495},{"d":0.5,"i":13,"x":-0.6035,"y":0.1608},{"d":0.5,"i":14,"x":-0.5785,"y":0.1711},{"d":0.5,"i":15,"x":-0.5535,"y":0.1804},{"d":0.5,"i":16,"x":-0.5235,"y":0.1897},{"d":0.5,"i":17,"x":-0.4935,"y":0.1979},{"d":0.5,"i":18,"x":-0.4635,"y":0.2052},{"d":0.5,"i":19,"x":-0.4285,"y":0.2124},{"d":0.5,"i":20,"x":-0.3935,"y":0.2186},{"d":0.5,"i":21,"x":-0.3585,"y":0.2237},{"d":0.5,"i":22,"x":-0.3185,"y":0.2289},{"d":0.5,"i":23,"x":-0.2785,"y":0.233},{"d":0.5,"i":24,"x":-0.2385,"y":0.2361},{"d":0.5,"i":25,"x":-0.1985,"y":0.2381},{"d":0.5,"i":26,"x":-0.1585,"y":0.2392},{"d":0.5,"i":27,"x":-0.1185,"y":0.2402},{"d":0.5,"i":28,"x":-0.0785,"y":0.2402},{"d":0.5,"i":29,"x":-0.0385,"y":0.2402},{"d":0.5,"i":30,"x":0.0015,"y":0.2402},{"d":0.5,"i":31,"x":0.0415,"y":0.2397},{"d":0.5,"i":32,"x":0.0765,"y":0.2412},{"d":0.5,"i":33,"x":0.1065,"y":0.2485},{"d":0.5,"i":34,"x":0.1215,"y":0.2505},{"d":0.5,"i":35,"x":0.1565,"y":0.2495},{"d":0.5,"i":36,"x":0.1915,"y":0.2485},{"d":0.5,"i":37,"x":0.2265,"y":0.2464},{"d":0.5,"i":38,"x":0.2615,"y":0.2433},{"d":0.5,"i":39,"x":0.2965,"y":0.2402},{"d":0.5,"i":40,"x":0.3315,"y":0.2361},{"d":0.5,"i":41,"x":0.3665,"y":0.2309},{"d":0.5,"i":42,"x":0.4015,"y":0.2247},{"d":0.5,"i":43,"x":0.4365,"y":0.2175},{"d":0.5,"i":44,"x":0.4665,"y":0.2093},{"d":0.5,"i":45,"x":0.4965,"y":0.2},{"d":0.5,"i":46,"x":0.5265,"y":0.1897},{"d":0.5,"i":47,"x":0.5515,"y":0.1784},{"d":0.5,"i":48,"x":0.5765,"y":0.166},{"d":0.5,"i":49,"x":0.6015,"y":0.1526},{"d":0.5,"i":50,"x":0.6215,"y":0.1381},{"d":0.5,"i":51,"x":0.6415,"y":0.1227},{"d":0.5,"i":52,"x":0.6615,"y":0.1062},{"d":0.5,"i":53,"x":0.6765,"y":0.0887},{"d":0.5,"i":54,"x":0.6915,"y":0.0711},{"d":0.5,"i":55,"x":0.7015,"y":0.0526},{"d":0.5,"i":56,"x":0.7115,"y":0.034},{"d":0.5,"i":57,"x":0.7165,"y":0.0175},{"d":0.5,"i":58,"x":0.7215,"y":0},
{"d":0.6,"i":1,"x":-0.221,"y":0},{"d":0.6,"i":2,"x":-0.2185,"y":0.0093},{"d":0.6,"i":3,"x":-0.2135,"y":0.0186},{"d":0.6,"i":4,"x":-0.206,"y":0.0278},{"d":0.6,"i":5,"x":-0.196,"y":0.0361},{"d":0.6,"i":6,"x":-0.1835,"y":0.0433},{"d":0.6,"i":7,"x":-0.1685,"y":0.0495},{"d":0.6,"i":8,"x":-0.1485,"y":0.0546},{"d":0.6,"i":9,"x":-0.1285,"y":0.0588},{"d":0.6,"i":10,"x":-0.1035,"y":0.0619},{"d":0.6,"i":11,"x":-0.0785,"y":0.0629},{"d":0.6,"i":12,"x":-0.0535,"y":0.0639},{"d":0.6,"i":13,"x":-0.0285,"y":0.0639},{"d":0.6,"i":14,"x":-0.0035,"y":0.0639},{"d":0.6,"i":15,"x":0.0215,"y":0.0634},{"d":0.6,"i":16,"x":0.0465,"y":0.0649},{"d":0.6,"i":17,"x":0.0665,"y":0.0691},{"d":0.6,"i":18,"x":0.0865,"y":0.0722},{"d":0.6,"i":19,"x":0.1065,"y":0.0701},{"d":0.6,"i":20,"x":0.1265,"y":0.066},{"d":0.6,"i":21,"x":0.1465,"y":0.0588},{"d":0.6,"i":22,"x":0.1615,"y":0.0505},{"d":0.6,"i":23,"x":0.1765,"y":0.0412},{"d":0.6,"i":24,"x":0.1865,"y":0.0309},{"d":0.6,"i":25,"x":0.194,"y":0.0206},{"d":0.6,"i":26,"x":0.199,"y":0.0103},{"d":0.6,"i":27,"x":0.2015,"y":0},
{"d":0.7,"i":1,"x":0,"y":0.002},{"d":0.8,"i":1,"x":0,"y":0},{"d":0.9,"i":1,"x":0,"y":0},{"d":1,"i":1,"x":0,"y":0}
]
},
"vconcat": [
{
  "width": 519, "height": 512,
  "data": {"name": "a"},
  "title": {"text": "(a) 4-Family", "orient": "bottom", "offset": 18, "font": "Liberation Serif", "fontSize": 20, "fontWeight": "normal", "color": "black", "frame": "bounds", "anchor": "middle"},
  "resolve": {"axis": {"x": "independent", "y": "independent"}},
  "layer": [
    {
      "mark": {"type": "line", "strokeWidth": 2, "point": {"shape": "M-1,0A1,1,0,1,1,1,0A1,1,0,1,1,-1,0M0,-0.6L0,0.6", "size": 115, "filled": false, "strokeWidth": 1.5}},
      "encoding": {
        "x": {"field": "x", "type": "quantitative", "scale": {"domain": [-1.2, 1.268], "nice": false, "zero": false}, "axis": {"orient": "bottom", "values": [-1.2, -0.8, -0.4, 0, 0.4, 0.8, 1.2], "format": ".2~g", "grid": true, "ticks": false, "domain": false, "labelPadding": 12, "labelFlush": false, "title": "x (mm)", "titlePadding": 0}},
        "y": {"field": "y", "type": "quantitative", "scale": {"domain": [0, 0.6], "nice": false, "zero": false}, "axis": {"orient": "left", "values": [0, 0.2, 0.4, 0.6], "format": ".2~g", "grid": true, "ticks": false, "domain": false, "labelPadding": 5, "labelFlush": false, "title": "y (mm)", "titlePadding": 12}},
        "color": {"field": "d", "type": "nominal", "scale": {"domain": [0, 0.1, 0.2, 0.3, 0.4, 0.5, 0.6, 0.7, 0.8, 0.9, 1], "range": ["#0a0ade", "#22e622", "#22e6f0", "#e62ce6", "#f2f200", "#000000", "#ff8000", "#8a2be2", "#aaaaaa", "#0a0ade", "#22e622"]}, "legend": {"orient": "none", "legendX": 4, "legendY": 19, "title": null, "padding": 0, "clipHeight": 14.4, "symbolType": "M-1,0L2,0M4,0L7,0M2,0A1,1,0,1,1,4,0A1,1,0,1,1,2,0M3,-0.6L3,0.6", "symbolSize": 100, "symbolStrokeWidth": 2.5, "symbolFillColor": "transparent", "labelFont": "DejaVu Sans", "labelFontSize": 13, "labelColor": "#222222", "labelOffset": 37, "rowPadding": 0, "labelExpr": "'δ:\u00a0\u00a0\u00a0' + format(datum.value, '.2f') + '\u00a0\u00a0%'"}},
        "order": {"field": "i", "type": "quantitative"}
      }
    },
    {
      "mark": {"type": "point", "opacity": 0},
      "encoding": {
        "x": {"field": "x", "type": "quantitative", "scale": {"domain": [-1.2, 1.268], "nice": false, "zero": false}, "axis": {"orient": "bottom", "values": [-1.2, -1.1, -1, -0.9, -0.8, -0.7, -0.6, -0.5, -0.4, -0.3, -0.2, -0.1, 0, 0.1, 0.2, 0.3, 0.4, 0.5, 0.6, 0.7, 0.8, 0.9, 1, 1.1, 1.2], "labels": false, "grid": false, "domain": false, "ticks": true, "tickSize": -6, "title": null}},
        "y": {"field": "y", "type": "quantitative", "scale": {"domain": [0, 0.6], "nice": false, "zero": false}, "axis": {"orient": "left", "values": [0, 0.05, 0.1, 0.15, 0.2, 0.25, 0.3, 0.35, 0.4, 0.45, 0.5, 0.55, 0.6], "labels": false, "grid": false, "domain": false, "ticks": true, "tickSize": -6, "title": null}}
      }
    },
    {
      "mark": {"type": "point", "opacity": 0},
      "encoding": {
        "x": {"field": "x", "type": "quantitative", "scale": {"domain": [-1.2, 1.268], "nice": false, "zero": false}, "axis": {"orient": "top", "values": [-1.2, -1.1, -1, -0.9, -0.8, -0.7, -0.6, -0.5, -0.4, -0.3, -0.2, -0.1, 0, 0.1, 0.2, 0.3, 0.4, 0.5, 0.6, 0.7, 0.8, 0.9, 1, 1.1, 1.2], "labels": false, "grid": false, "domain": false, "ticks": true, "tickSize": -6, "title": "dynamic aperture", "titlePadding": 1}},
        "y": {"field": "y", "type": "quantitative", "scale": {"domain": [0, 0.6], "nice": false, "zero": false}, "axis": {"orient": "right", "values": [0, 0.05, 0.1, 0.15, 0.2, 0.25, 0.3, 0.35, 0.4, 0.45, 0.5, 0.55, 0.6], "labels": false, "grid": false, "domain": false, "ticks": true, "tickSize": -6, "title": null}}
      }
    }
  ]
},
{
  "width": 520, "height": 508,
  "data": {"name": "b"},
  "title": {"text": "(b) ATS", "orient": "bottom", "offset": 14, "font": "Liberation Serif", "fontSize": 20, "fontWeight": "normal", "color": "black", "frame": "bounds", "anchor": "middle"},
  "resolve": {"axis": {"x": "independent", "y": "independent"}},
  "layer": [
    {
      "mark": {"type": "line", "strokeWidth": 2, "point": {"shape": "M-1,0A1,1,0,1,1,1,0A1,1,0,1,1,-1,0M0,-0.6L0,0.6", "size": 115, "filled": false, "strokeWidth": 1.5}},
      "encoding": {
        "x": {"field": "x", "type": "quantitative", "scale": {"domain": [-1.32, 1.28], "nice": false, "zero": false}, "axis": {"orient": "bottom", "values": [-1.2, -0.8, -0.4, 0, 0.4, 0.8, 1.2], "format": ".2~g", "grid": true, "ticks": false, "domain": false, "labelPadding": 12, "labelFlush": false, "title": "x (mm)", "titlePadding": 0}},
        "y": {"field": "y", "type": "quantitative", "scale": {"domain": [0, 0.524], "nice": false, "zero": false}, "axis": {"orient": "left", "values": [0, 0.1, 0.2, 0.3, 0.4, 0.5], "format": ".2~g", "grid": true, "ticks": false, "domain": false, "labelPadding": 5, "labelFlush": false, "title": "y (mm)", "titlePadding": 12}},
        "color": {"field": "d", "type": "nominal", "scale": {"domain": [0, 0.1, 0.2, 0.3, 0.4, 0.5, 0.6, 0.7, 0.8, 0.9, 1], "range": ["#0a0ade", "#22e622", "#22e6f0", "#e62ce6", "#f2f200", "#000000", "#ff8000", "#8a2be2", "#aaaaaa", "#0a0ade", "#22e622"]}, "legend": {"orient": "none", "legendX": 4, "legendY": 18, "title": null, "padding": 0, "clipHeight": 13.9, "symbolType": "M-1,0L2,0M4,0L7,0M2,0A1,1,0,1,1,4,0A1,1,0,1,1,2,0M3,-0.6L3,0.6", "symbolSize": 100, "symbolStrokeWidth": 2.5, "symbolFillColor": "transparent", "labelFont": "DejaVu Sans", "labelFontSize": 13, "labelColor": "#222222", "labelOffset": 37, "rowPadding": 0, "labelExpr": "'δ:\u00a0\u00a0\u00a0' + format(datum.value, '.2f') + '\u00a0\u00a0%'"}},
        "order": {"field": "i", "type": "quantitative"}
      }
    },
    {
      "mark": {"type": "point", "opacity": 0},
      "encoding": {
        "x": {"field": "x", "type": "quantitative", "scale": {"domain": [-1.32, 1.28], "nice": false, "zero": false}, "axis": {"orient": "bottom", "values": [-1.3, -1.2, -1.1, -1, -0.9, -0.8, -0.7, -0.6, -0.5, -0.4, -0.3, -0.2, -0.1, 0, 0.1, 0.2, 0.3, 0.4, 0.5, 0.6, 0.7, 0.8, 0.9, 1, 1.1, 1.2], "labels": false, "grid": false, "domain": false, "ticks": true, "tickSize": -6, "title": null}},
        "y": {"field": "y", "type": "quantitative", "scale": {"domain": [0, 0.524], "nice": false, "zero": false}, "axis": {"orient": "left", "values": [0, 0.05, 0.1, 0.15, 0.2, 0.25, 0.3, 0.35, 0.4, 0.45, 0.5], "labels": false, "grid": false, "domain": false, "ticks": true, "tickSize": -6, "title": null}}
      }
    },
    {
      "mark": {"type": "point", "opacity": 0},
      "encoding": {
        "x": {"field": "x", "type": "quantitative", "scale": {"domain": [-1.32, 1.28], "nice": false, "zero": false}, "axis": {"orient": "top", "values": [-1.3, -1.2, -1.1, -1, -0.9, -0.8, -0.7, -0.6, -0.5, -0.4, -0.3, -0.2, -0.1, 0, 0.1, 0.2, 0.3, 0.4, 0.5, 0.6, 0.7, 0.8, 0.9, 1, 1.1, 1.2], "labels": false, "grid": false, "domain": false, "ticks": true, "tickSize": -6, "title": "dynamic aperture", "titlePadding": 0}},
        "y": {"field": "y", "type": "quantitative", "scale": {"domain": [0, 0.524], "nice": false, "zero": false}, "axis": {"orient": "right", "values": [0, 0.05, 0.1, 0.15, 0.2, 0.25, 0.3, 0.35, 0.4, 0.45, 0.5], "labels": false, "grid": false, "domain": false, "ticks": true, "tickSize": -6, "title": null}}
      }
    }
  ]
}
]
}
